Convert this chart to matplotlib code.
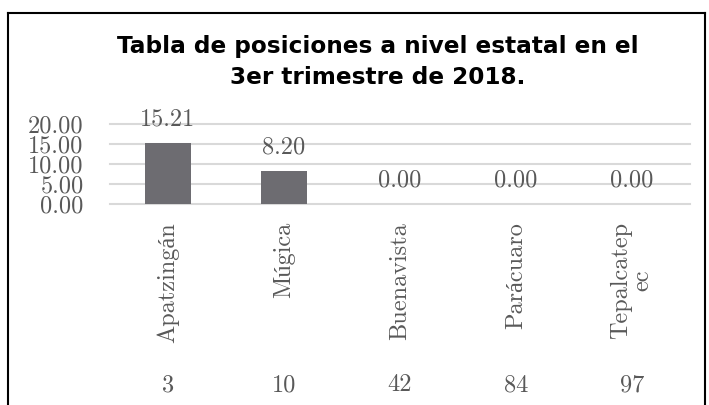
import matplotlib
matplotlib.use("Agg")
import matplotlib.pyplot as plt
from matplotlib.lines import Line2D
from matplotlib.transforms import blended_transform_factory

categories = ["Apatzingán", "Múgica", "Buenavista", "Parácuaro", "Tepalcatep\nec"]
values = [15.21, 8.20, 0.00, 0.00, 0.00]
positions_row = ["3", "10", "42", "84", "97"]
yticks = [0, 5, 10, 15, 20]
title = "Tabla de posiciones a nivel estatal en el\n3er trimestre de 2018."

W, H = 709, 405
fig = plt.figure(figsize=(W / 100, H / 100), dpi=100)
fig.patch.set_facecolor("white")

serif = ["cmr10", "Liberation Serif"]
txt_color = "#595959"
fs = 17.5

ax = fig.add_axes([110 / W, (H - 204) / H, 580 / W, 80 / H])
x = list(range(len(categories)))
ax.bar(x, values, width=0.4, color="#6D6C71", zorder=3)
ax.set_xlim(-0.5, len(categories) - 0.5)
ax.set_ylim(0, 20)
ax.set_yticks(yticks)
ax.set_yticklabels([f"{v:.2f}" for v in yticks], fontfamily=serif, fontsize=fs, color=txt_color)
ax.set_xticks(x)
ax.set_xticklabels(categories, rotation=90, va="top", ha="center", multialignment="center",
                   fontfamily=serif, fontsize=fs, color=txt_color, linespacing=0.95)
ax.tick_params(axis="both", length=0)
ax.tick_params(axis="y", pad=19)
ax.tick_params(axis="x", pad=13)
for s in ax.spines.values():
    s.set_visible(False)
ax.yaxis.grid(True, color="#D9D9D9", linewidth=1.5, zorder=0)
ax.set_axisbelow(True)
for gl in ax.get_ygridlines():
    gl.set_clip_on(False)

for xi, v in zip(x, values):
    ax.annotate(f"{v:.2f}", (xi, v), xytext=(0, 17.3), textcoords="offset points",
                ha="center", va="center", fontfamily=serif, fontsize=fs, color=txt_color)

tr = blended_transform_factory(ax.transData, fig.transFigure)
for xi, p in zip(x, positions_row):
    ax.text(xi, (H - 385) / H, p, transform=tr, ha="center", va="center",
            fontfamily=serif, fontsize=fs, color=txt_color)

fig.text(378 / W, 1 - 62 / H, title, ha="center", va="center", fontfamily="DejaVu Sans",
         fontweight="bold", fontsize=16.7, color="black", linespacing=1.4)

# outer frame
lw = 1.5
fig.add_artist(Line2D([8 / W, 8 / W], [0, 1 - 13 / H], transform=fig.transFigure, color="black", lw=lw))
fig.add_artist(Line2D([8 / W, 705 / W], [1 - 13 / H, 1 - 13 / H], transform=fig.transFigure, color="black", lw=lw))
fig.add_artist(Line2D([705 / W, 705 / W], [0, 1 - 13 / H], transform=fig.transFigure, color="black", lw=lw))

fig.savefig("out.png", dpi=100)
